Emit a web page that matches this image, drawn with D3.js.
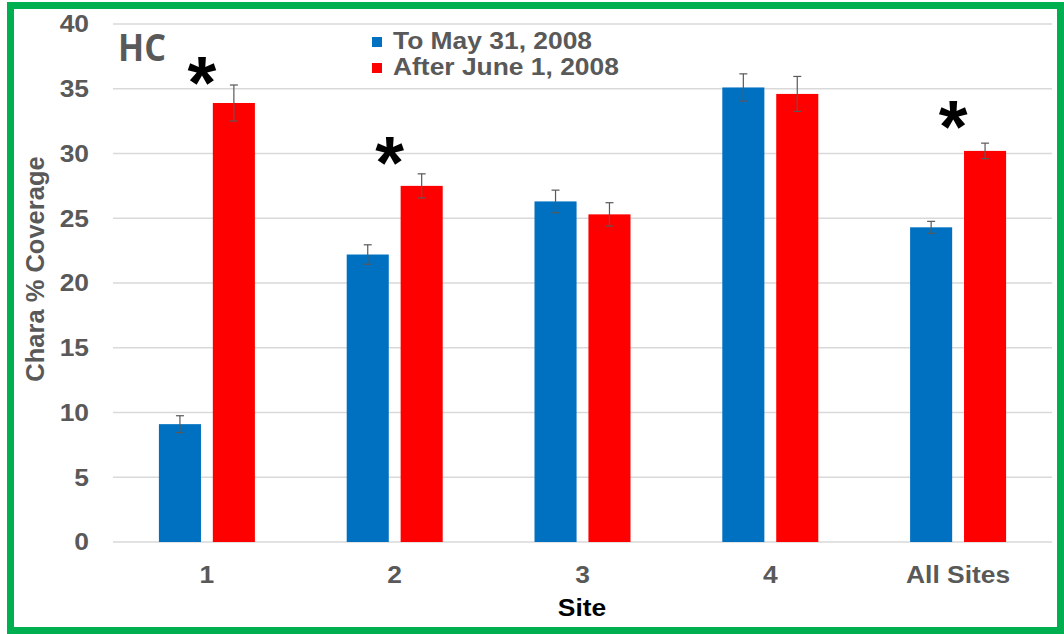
<!DOCTYPE html>
<meta charset="utf-8">
<style>
    body { margin: 0; background: #fff; }
    text { font-family: "Liberation Sans", Arial, sans-serif; font-weight: bold; }
    .grid line { stroke: #d9d9d9; stroke-width: 1.5px; }
    .tick-label { font-size: 24px; fill: #595959; }
    .err line { stroke: #595959; stroke-width: 1.2px; }
</style>
<body>
<script src="https://cdn.jsdelivr.net/npm/d3@7"></script>
<script>

// chart data
var sites = ["1", "2", "3", "4", "All Sites"];
var series = ["To May 31, 2008", "After June 1, 2008"];
var beforeVals = [9.1, 22.2, 26.3, 35.1, 24.3];
var afterVals = [33.9, 27.5, 25.3, 34.6, 30.2];
var beforeErr = [0.65, 0.75, 0.87, 1.05, 0.46];
var afterErr = [1.39, 0.93, 0.9, 1.35, 0.6];
var yTicks = [0, 5, 10, 15, 20, 25, 30, 35, 40];
// significance marks: site + height (in % coverage)
var starSites = ["1", "2", "All Sites"];
var starLevels = [36.4, 30.2, 33.0];

var colors = ["#0070c0", "#ff0000"];
var stretch = 1.1; // the original text is a bit wide

var W = 1064, H = 634;
var svg = d3.select("body").append("svg")
    .attr("width", W)
    .attr("height", H);

// green frame
svg.append("rect")
    .attr("x", 10.5).attr("y", 5.5)
    .attr("width", 1050).attr("height", 625)
    .attr("fill", "#fff")
    .attr("stroke", "#00b050")
    .attr("stroke-width", 7);

var x0 = d3.scaleBand().domain(sites).range([113, 1052]);
var x1 = d3.scaleBand().domain(series).range([-48, 48]).paddingInner(0.22);
var y = d3.scaleLinear().domain([0, 40]).range([542, 24]);

function place(x, y) {
    return "translate(" + x + "," + y + ")scale(" + stretch + ",1)";
}

// gridlines
svg.append("g").attr("class", "grid")
    .selectAll("line")
    .data(yTicks)
    .enter().append("line")
    .attr("x1", 113).attr("x2", 1052)
    .attr("y1", function(d) { return y(d); })
    .attr("y2", function(d) { return y(d); });

// y tick labels
svg.append("g")
    .selectAll("text")
    .data(yTicks)
    .enter().append("text")
    .attr("class", "tick-label")
    .attr("transform", function(d) { return place(89, y(d)); })
    .attr("dy", "0.35em")
    .attr("text-anchor", "end")
    .text(function(d) { return d; });

// x tick labels
svg.append("g")
    .selectAll("text")
    .data(sites)
    .enter().append("text")
    .attr("class", "tick-label")
    .attr("transform", function(d) { return place(x0(d) + x0.bandwidth() / 2, 583); })
    .attr("text-anchor", "middle")
    .text(function(d) { return d; });

// bars
var rows = sites.map(function(s, i) {
    return [
        {site: s, key: series[0], v: beforeVals[i], e: beforeErr[i], c: colors[0]},
        {site: s, key: series[1], v: afterVals[i], e: afterErr[i], c: colors[1]}
    ];
});
var flat = [].concat.apply([], rows);

var barX = function(d) { return x0(d.site) + x0.bandwidth() / 2 + x1(d.key); };

svg.append("g")
    .selectAll("rect")
    .data(flat)
    .enter().append("rect")
    .attr("x", barX)
    .attr("y", function(d) { return y(d.v); })
    .attr("width", x1.bandwidth())
    .attr("height", function(d) { return y(0) - y(d.v); })
    .attr("fill", function(d) { return d.c; });

// error bars
var err = svg.append("g").attr("class", "err")
    .selectAll("g")
    .data(flat)
    .enter().append("g")
    .attr("transform", function(d) { return "translate(" + (barX(d) + x1.bandwidth() / 2) + ",0)"; });

err.append("line")
    .attr("y1", function(d) { return y(d.v + d.e); })
    .attr("y2", function(d) { return y(d.v - d.e); });
err.append("line")
    .attr("x1", -4).attr("x2", 4)
    .attr("y1", function(d) { return y(d.v + d.e); })
    .attr("y2", function(d) { return y(d.v + d.e); });
err.append("line")
    .attr("x1", -4).attr("x2", 4)
    .attr("y1", function(d) { return y(d.v - d.e); })
    .attr("y2", function(d) { return y(d.v - d.e); });

// asterisks
svg.append("g")
    .selectAll("text")
    .data(starSites)
    .enter().append("text")
    .attr("x", function(d) { return x0(d) + x0.bandwidth() / 2 - 5; })
    .attr("y", function(d, i) { return y(starLevels[i]); })
    .attr("dy", "0.5em")
    .attr("text-anchor", "middle")
    .style("font-size", "74px")
    .style("fill", "#000")
    .text("*");

// HC label
svg.append("text")
    .attr("transform", "translate(118,61)scale(0.9,1)")
    .style("font-family", "'Open Sans', sans-serif")
    .style("font-size", "38px")
    .style("fill", "#595959")
    .text("HC");

// legend
var legend = svg.append("g")
    .selectAll("g")
    .data(series)
    .enter().append("g")
    .attr("transform", function(d, i) { return "translate(372," + (49 + i * 26) + ")"; });
legend.append("rect")
    .attr("y", -12).attr("width", 10).attr("height", 10)
    .attr("fill", function(d, i) { return colors[i]; });
legend.append("text")
    .attr("class", "tick-label")
    .attr("transform", "translate(21,0)scale(" + stretch + ",1)")
    .text(function(d) { return d; });

// axis titles
svg.append("text")
    .attr("transform", place(582, 616))
    .attr("text-anchor", "middle")
    .style("font-size", "24px")
    .style("fill", "#000")
    .text("Site");

svg.append("text")
    .attr("transform", "translate(44,269)rotate(-90)")
    .attr("text-anchor", "middle")
    .style("font-size", "25.5px")
    .style("fill", "#595959")
    .text("Chara % Coverage");

</script>
</body>
